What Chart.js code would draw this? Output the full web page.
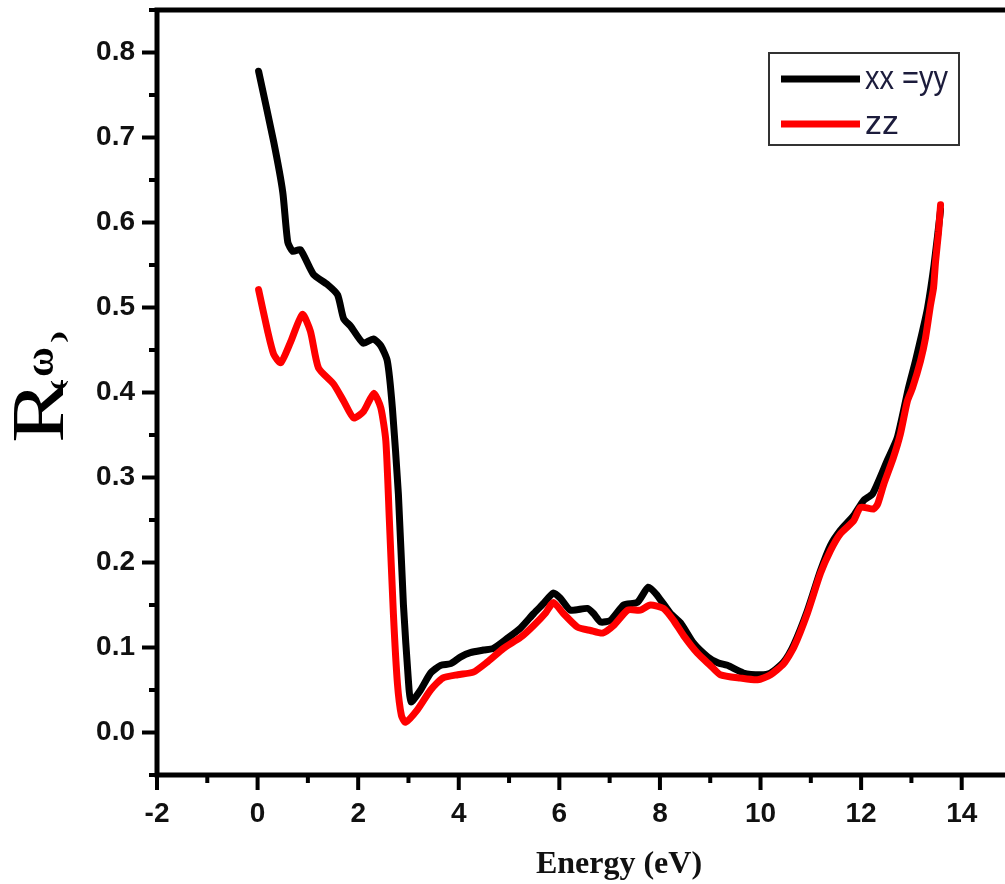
<!DOCTYPE html>
<html>
<head>
<meta charset="utf-8">
<script src="https://cdn.jsdelivr.net/npm/chart.js@4.4.1/dist/chart.umd.min.js"></script>
<style>
html,body{margin:0;padding:0;overflow:hidden;background:#fff;}
#wrap{position:relative;width:1060px;height:884px;}
</style>
</head>
<body>
<div id="wrap"><canvas id="c" width="1060" height="884"></canvas></div>
<script>
// ---- data ----
const xxEnergy = [0.02,0.32,0.5,0.6,0.7,0.85,1.11,1.39,1.59,1.71,1.85,2.1,2.3,2.45,2.58,2.68,2.8,2.9,3.0,3.05,3.24,3.44,3.64,3.84,4.04,4.23,4.49,4.69,4.97,5.23,5.49,5.69,5.88,6.02,6.22,6.56,6.68,6.82,7.02,7.28,7.55,7.77,7.95,8.21,8.41,8.67,8.95,9.15,9.34,9.66,10.0,10.2,10.46,10.66,10.93,11.19,11.39,11.59,11.85,12.05,12.23,12.52,12.72,12.94,13.08,13.22,13.32,13.45,13.58];
const xxR = [0.778,0.695,0.636,0.577,0.566,0.568,0.539,0.527,0.515,0.487,0.478,0.458,0.463,0.455,0.437,0.382,0.28,0.15,0.06,0.036,0.05,0.07,0.079,0.081,0.089,0.094,0.097,0.099,0.111,0.123,0.14,0.152,0.164,0.158,0.144,0.146,0.14,0.13,0.132,0.15,0.153,0.171,0.161,0.14,0.129,0.105,0.089,0.082,0.079,0.07,0.068,0.070,0.083,0.103,0.143,0.19,0.22,0.238,0.255,0.273,0.281,0.32,0.347,0.405,0.437,0.472,0.499,0.55,0.615];
const zzEnergy = [0.02,0.2,0.32,0.46,0.66,0.89,1.05,1.21,1.51,1.71,1.91,2.11,2.31,2.45,2.55,2.62,2.7,2.78,2.86,2.94,3.18,3.44,3.68,3.98,4.29,4.57,4.89,5.23,5.49,5.73,5.88,6.08,6.36,6.62,6.86,7.08,7.36,7.61,7.81,8.07,8.27,8.47,8.75,9.0,9.2,9.6,9.94,10.2,10.46,10.66,10.93,11.19,11.39,11.59,11.85,11.99,12.25,12.33,12.45,12.64,12.78,12.92,13.02,13.18,13.28,13.38,13.44,13.48,13.54,13.58];
const zzR = [0.521,0.472,0.445,0.435,0.46,0.492,0.472,0.429,0.41,0.39,0.37,0.378,0.399,0.382,0.343,0.25,0.14,0.058,0.02,0.012,0.027,0.05,0.064,0.068,0.071,0.083,0.099,0.112,0.126,0.141,0.153,0.14,0.124,0.12,0.117,0.126,0.144,0.144,0.15,0.146,0.132,0.114,0.093,0.079,0.068,0.064,0.062,0.068,0.081,0.100,0.140,0.187,0.214,0.234,0.249,0.265,0.263,0.269,0.292,0.323,0.351,0.39,0.405,0.437,0.464,0.503,0.523,0.554,0.589,0.621];
const seriesLabels = ['xx =yy', 'zz'];
const xTickValues = [-2,0,2,4,6,8,10,12,14];
const xMinorValues = [-1,1,3,5,7,9,11,13,15];
const yTickValues = [0,0.1,0.2,0.3,0.4,0.5,0.6,0.7,0.8];
const yMinorValues = [-0.05,0.05,0.15,0.25,0.35,0.45,0.55,0.65,0.75,0.85];
const xTitle = 'Energy (eV)';
const yTitleMain = 'R';
const yTitleSub = ['(', '\u03c9', ')'];

const toPts = (xs, ys) => xs.map((x, i) => ({x: x, y: ys[i]}));
const tickFont = {family: "'Liberation Sans', Arial, sans-serif", size: 28, weight: 'bold'};

function stretchedText(ctx, text, x, y, targetW) {
  const w = ctx.measureText(text).width;
  ctx.save();
  ctx.translate(x, y);
  ctx.scale(targetW / w, 1);
  ctx.fillText(text, 0, 0);
  ctx.restore();
}

const framePlugin = {
  id: 'frame',
  afterDraw(chart) {
    const ctx = chart.ctx;
    const a = chart.chartArea;
    const xs = chart.scales.x, ys = chart.scales.y;
    ctx.save();
    ctx.strokeStyle = '#000';
    ctx.lineWidth = 5;
    ctx.strokeRect(a.left, a.top, a.right - a.left, a.bottom - a.top);
    ctx.lineWidth = 4;
    ctx.lineCap = 'butt';
    ctx.beginPath();
    yTickValues.forEach(v => { const p = ys.getPixelForValue(v); ctx.moveTo(a.left - 15, p); ctx.lineTo(a.left, p); });
    yMinorValues.forEach(v => { const p = ys.getPixelForValue(v); ctx.moveTo(a.left - 8, p); ctx.lineTo(a.left, p); });
    xTickValues.forEach(v => { const p = xs.getPixelForValue(v); ctx.moveTo(p, a.bottom); ctx.lineTo(p, a.bottom + 15); });
    xMinorValues.forEach(v => { const p = xs.getPixelForValue(v); ctx.moveTo(p, a.bottom); ctx.lineTo(p, a.bottom + 8); });
    ctx.stroke();

    // legend
    const lx = 769, ly = 53, lw = 190, lh = 92;
    ctx.lineWidth = 2;
    ctx.strokeStyle = '#333';
    ctx.strokeRect(lx, ly, lw, lh);
    const ds = chart.data.datasets;
    const rows = [79, 124];
    const widths = [83, 34];
    ds.forEach((d, i) => {
      ctx.strokeStyle = d.borderColor;
      ctx.lineWidth = 7;
      ctx.beginPath(); ctx.moveTo(781, rows[i]); ctx.lineTo(860, rows[i]); ctx.stroke();
      ctx.fillStyle = '#1c1c3c';
      ctx.font = "34px 'Liberation Sans', Arial, sans-serif";
      ctx.textBaseline = 'middle';
      ctx.textAlign = 'left';
      stretchedText(ctx, d.label, 865, rows[i] + 1, widths[i]);
    });

    // x title
    ctx.fillStyle = '#111';
    ctx.font = "bold 32px 'Liberation Serif', 'Times New Roman', serif";
    ctx.textAlign = 'center';
    ctx.textBaseline = 'alphabetic';
    ctx.fillText(xTitle, 619, 873);

    // y title (rotated)
    ctx.save();
    ctx.translate(63, 443);
    ctx.rotate(-Math.PI / 2);
    ctx.textAlign = 'left';
    ctx.textBaseline = 'alphabetic';
    ctx.fillStyle = '#000';
    ctx.font = "75px 'Liberation Serif', 'Times New Roman', serif";
    stretchedText(ctx, yTitleMain, 0, 0, 63);
    ctx.font = "bold 18px 'Liberation Serif', 'Times New Roman', serif";
    stretchedText(ctx, yTitleSub[0], 53, 1, 10);
    ctx.font = "bold 40px 'Liberation Serif', 'Times New Roman', serif";
    stretchedText(ctx, yTitleSub[1], 66, -10, 30);
    ctx.font = "bold 18px 'Liberation Serif', 'Times New Roman', serif";
    stretchedText(ctx, yTitleSub[2], 100, 1, 12);
    ctx.restore();
    ctx.restore();
  }
};

new Chart(document.getElementById('c'), {
  type: 'line',
  data: {
    datasets: [
      {label: seriesLabels[0], data: toPts(xxEnergy, xxR), borderColor: '#000000', borderWidth: 7, pointRadius: 0, tension: 0.2, borderJoinStyle: 'round', borderCapStyle: 'round', order: 2},
      {label: seriesLabels[1], data: toPts(zzEnergy, zzR), borderColor: '#ff0000', borderWidth: 7, pointRadius: 0, tension: 0.2, borderJoinStyle: 'round', borderCapStyle: 'round', order: 1}
    ]
  },
  options: {
    responsive: false,
    animation: false,
    events: [],
    layout: {padding: {left: 0, right: 48, top: 10, bottom: 0}},
    plugins: {legend: {display: false}, tooltip: {enabled: false}},
    scales: {
      x: {
        type: 'linear', min: -2, max: 15,
        grid: {display: false, drawTicks: false},
        border: {display: false},
        afterBuildTicks: s => { s.ticks = xTickValues.map(v => ({value: v})); },
        afterFit: s => { s.height = 109; s.paddingLeft = 0; s.paddingRight = 0; s.paddingTop = 0; s.paddingBottom = 0; },
        ticks: {font: tickFont, color: '#111', padding: 22, maxRotation: 0, autoSkip: false, callback: v => String(v)}
      },
      y: {
        type: 'linear', min: -0.05, max: 0.85,
        grid: {display: false, drawTicks: false},
        border: {display: false},
        afterBuildTicks: s => { s.ticks = yTickValues.map(v => ({value: v})); },
        afterFit: s => { s.width = 157; s.paddingLeft = 0; s.paddingRight = 0; s.paddingTop = 0; s.paddingBottom = 0; },
        ticks: {font: tickFont, color: '#111', padding: 22, autoSkip: false, callback: v => Number(v).toFixed(1)}
      }
    }
  },
  plugins: [framePlugin]
});
</script>
</body>
</html>
